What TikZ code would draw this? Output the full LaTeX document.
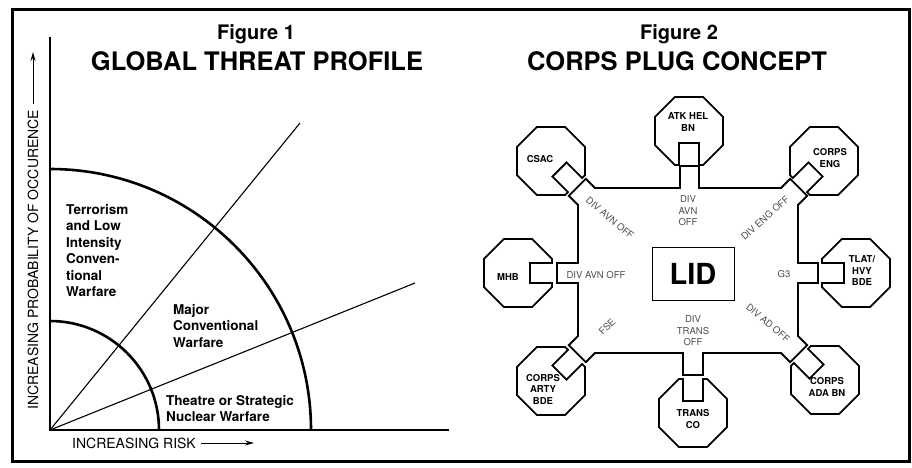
\documentclass[tikz,border=0pt]{standalone}
\usepackage{fontspec}
\setmainfont{TeX Gyre Heros}
\usetikzlibrary{arrows.meta}

\begin{document}
\begin{tikzpicture}[x=1pt,y=-1pt,
    title/.style={font=\fontsize{25.5}{28}\selectfont\bfseries},
    figno/.style={font=\fontsize{20}{22}\selectfont\bfseries},
    zone/.style={anchor=north west,inner sep=0pt,align=left,font=\fontsize{13.5}{16.5}\selectfont\bfseries},
    axislabel/.style={inner sep=0pt,font=\fontsize{14}{16}\selectfont},
    unit/.style={inner sep=0pt,align=center,font=\fontsize{9.5}{11.5}\selectfont\bfseries},
    staff/.style={inner sep=0pt,align=center,text=black!70,font=\fontsize{9.5}{11.5}\selectfont},
    plug/.style={line width=1.8pt,line join=miter},
    heavy/.style={line width=2.6pt},
    ray/.style={line width=1.1pt},
    axisarrow/.style={line width=1pt,-{Stealth[length=9pt,width=5pt]}},
  ]
  \useasboundingbox (0,0) rectangle (912,467);
  \draw[line width=3pt] (12,9) rectangle (909,461);

  % Figure 1
  \node[figno] (fig1) at (256,34) {Figure 1};
  \node[title] (title1) at (257,61) {GLOBAL THREAT PROFILE};
  \coordinate (O) at (50,430);
  \coordinate (ytop) at (50,37);
  \coordinate (xend) at (449,430);
  \coordinate (steep) at (300,123);
  \coordinate (flat) at (415,283);
  \draw[heavy] (ytop) -- (O) -- (xend);
  \draw[heavy] (50,169) arc[start angle=-90,end angle=0,radius=261];
  \draw[heavy] (50,321) arc[start angle=-90,end angle=0,radius=109];
  \draw[ray] (O) -- (steep);
  \draw[ray] (O) -- (flat);

  \node[zone] (terror) at (66,204) {Terrorism\\and Low\\Intensity\\Conven-\\tional\\Warfare};
  \node[zone] (major) at (173,304) {Major\\Conventional\\Warfare};
  \node[zone] (nuclear) at (166,395) {Theatre or Strategic\\Nuclear Warfare};

  \node[axislabel,anchor=west] (risk) at (72,443) {INCREASING RISK};
  \coordinate (risktip) at (254,443);
  \draw[axisarrow] ([xshift=5pt]risk.east) -- (risktip);
  \node[axislabel,anchor=west,rotate=90] (prob) at (33,410) {INCREASING PROBABILITY OF OCCURENCE};
  \coordinate (probtip) at (33,52);
  \draw[axisarrow] ([yshift=6pt]prob.east) -- (probtip);

  % Figure 2
  \node[figno] (fig2) at (679,34) {Figure 2};
  \node[title] (title2) at (677,61) {CORPS PLUG CONCEPT};

  % division body with its plugs
  \draw[plug] (595,188) -- (680,188) -- (680,166) -- (699,166) -- (699,188) -- (781,188)
    -- ++(9.2,-9.2) -- ++(17,17) -- (798,205) -- (798,263) -- (818,263) -- (818,283) -- (798,283) -- (798,336)
    -- ++(9.2,9.2) -- ++(-17,17) -- (781,353) -- (703,353) -- (703,375) -- (683,375) -- (683,353) -- (595,353)
    -- ++(-9.2,9.2) -- ++(-17,-17) -- (578,336) -- (578,283) -- (557,283) -- (557,263) -- (578,263) -- (578,205)
    -- ++(-9.2,-9.2) -- ++(17,-17) -- cycle;

  % corps units, socket facing the body
  \foreach \cx/\cy/\ang in {551/161/45, 689/131/90, 824/161/135, 856/273/180,
                            825/380/225, 693/413/270, 551/381/315, 518/273/0}
    \draw[plug,shift={(\cx,\cy)},rotate=-\ang] (34,10) -- (22.5:36.8) -- (67.5:36.8) -- (112.5:36.8)
      -- (157.5:36.8) -- (202.5:36.8) -- (247.5:36.8) -- (292.5:36.8) -- (337.5:36.8)
      -- (34,-10) -- (12,-10) -- (12,10) -- cycle;

  \node[draw,line width=1pt,minimum width=82pt,minimum height=53pt,inner sep=0pt,
        font=\fontsize{29}{30}\selectfont\bfseries] (lid) at (693,273.5) {LID};

  \node[unit] (csac) at (540,159) {CSAC};
  \node[unit] (atk) at (688,122) {ATK HEL\\BN};
  \node[unit] (eng) at (830,158) {CORPS\\ENG};
  \node[unit] (tlat) at (862,271) {TLAT/\\HVY\\BDE};
  \node[unit] (ada) at (827,387) {CORPS\\ADA BN};
  \node[unit] (trans) at (693,419) {TRANS\\CO};
  \node[unit] (arty) at (543,389) {CORPS\\ARTY\\BDE};
  \node[unit] (mhb) at (508,277) {MHB};

  \node[staff,rotate=-40] (avnnw) at (610,218) {DIV AVN OFF};
  \node[staff] (avnn) at (688,211) {DIV\\AVN\\OFF};
  \node[staff,rotate=42] (engoff) at (765,218) {DIV ENG OFF};
  \node[staff] (avnw) at (596,275) {DIV AVN OFF};
  \node[staff] (gthree) at (784,274) {G3};
  \node[staff,rotate=45] (fse) at (607,327) {FSE};
  \node[staff] (transoff) at (693,331) {DIV\\TRANS\\OFF};
  \node[staff,rotate=-40] (adoff) at (768,323) {DIV AD OFF};
\end{tikzpicture}
\end{document}
